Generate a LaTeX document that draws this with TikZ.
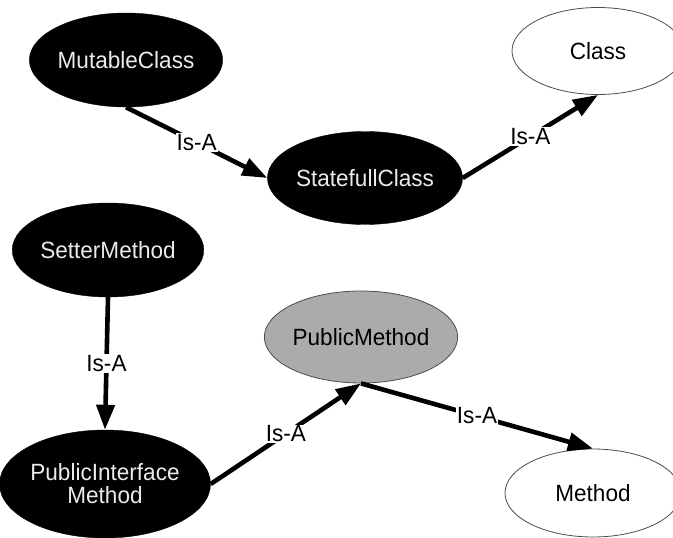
\documentclass[tikz,border=0pt]{standalone}
\usepackage{fontspec}
\setmainfont{Liberation Sans}[FakeStretch=0.96]
\usetikzlibrary{shapes.geometric,arrows.meta}

\tikzset{
  concept/.style={ellipse, inner sep=0pt, align=center,
    font=\fontsize{23.5}{23}\selectfont},
  darkconcept/.style={concept, fill=black, draw=black, text=white!92!black},
  lightconcept/.style={concept, fill=white, draw=black!70, line width=0.8pt, text=black},
  greyconcept/.style={concept, fill=black!33, draw=black!70, line width=0.8pt, text=black},
  isa/.style={line width=4.6pt, -{Triangle[length=25pt,width=18pt]}},
  isalabel/.style={fill=white, inner sep=1pt, text=black,
    font=\fontsize{23.5}{23}\selectfont}
}

\begin{document}
\begin{tikzpicture}[x=1pt,y=-1pt]
  \useasboundingbox (0,0) rectangle (673,538);
  \clip (0,0) rectangle (673,538);

  % concept nodes
  \node[darkconcept, minimum width=184pt, minimum height=94pt] (mutable) at (126,60) {MutableClass};
  \node[lightconcept, minimum width=172pt, minimum height=87pt] (class) at (598,51) {Class};
  \node[darkconcept, minimum width=174pt, minimum height=93pt] (stateful) at (365,178) {StatefullClass};
  \node[darkconcept, minimum width=184pt, minimum height=94pt] (setter) at (108,250) {SetterMethod};
  \node[greyconcept, minimum width=182pt, minimum height=92pt] (public) at (361,337) {PublicMethod};
  \node[darkconcept, minimum width=204pt, minimum height=108pt] (interface) at (105,484) {PublicInterface\\Method};
  \node[lightconcept, minimum width=176pt, minimum height=88pt] (method) at (593,493) {Method};

  % Is-A relations
  \draw[isa] (mutable.south) -- node[isalabel] {Is-A} (stateful.west);
  \draw[isa] (stateful.east) -- node[isalabel] {Is-A} (class.south);
  \draw[isa] (setter.south) -- node[isalabel] {Is-A} (interface.north);
  \draw[isa] (interface.east) -- node[isalabel] {Is-A} (public.south);
  \draw[isa] (public.south) -- node[isalabel] {Is-A} (method.north);
\end{tikzpicture}
\end{document}
